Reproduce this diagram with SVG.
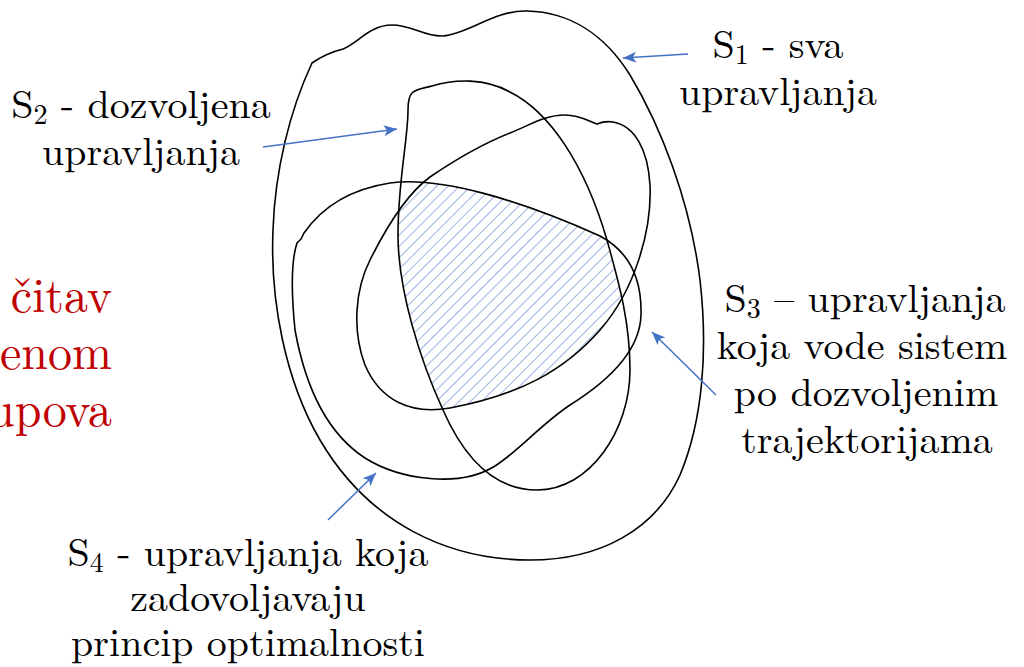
<svg xmlns="http://www.w3.org/2000/svg" width="1024" height="667" viewBox="0 0 1024 667">
<style>
.set{fill:none;stroke:#000;stroke-width:1.6;stroke-linejoin:round}
.arr{fill:none;stroke:#4472C4;stroke-width:1.5}
.lbl{font-size:40px;fill:#000;text-anchor:middle}
.red{font-size:48px;fill:#C00000;text-anchor:end}
.sub{font-size:28px}
</style>
<defs>
<marker id="ah" viewBox="0 0 12 10" refX="12" refY="5" markerWidth="14" markerHeight="11" markerUnits="userSpaceOnUse" orient="auto">
<path d="M0,0 L12,5 L0,10 L3,5 Z" fill="#4472C4"/>
</marker>
<pattern id="hatch" width="8" height="8" patternUnits="userSpaceOnUse" patternTransform="rotate(45)">
<line x1="0" y1="0" x2="0" y2="8" stroke="#7F9FD8" stroke-width="1.6"/>
</pattern>
<path id="p1" d="M312,63 C322,56 335,51 343,49 C358,43 370,25 392,25 C412,25 425,37 443,36 C468,34 495,10 527,11 C570,12 605,35 630,75 C660,125 690,200 700,280 C708,350 703,420 680,475 C655,530 600,560 530,560 C450,560 370,525 320,440 C285,380 270,300 273,230 C275,170 290,110 312,63 Z"/>
<path id="p2" d="M412,93 C418,88 425,88 432,86 C455,79 485,78 510,92 C550,112 585,165 607,240 C618,280 630,320 630,370 C630,430 590,490 537,490 C495,490 465,460 443,410 C420,360 398,290 398,235 C398,180 408,140 408,110 C408,100 409,96 412,93 Z"/>
<path id="p3" d="M430,177 C455,160 480,145 510,133 C530,125 545,115 565,115 C580,115 590,122 597,124 C602,122 607,121 613,122 C635,126 648,150 650,185 C652,230 635,290 600,330 C565,370 520,395 450,408 C410,415 380,400 365,365 C352,330 355,290 370,260 C385,230 405,195 430,177 Z"/>
<path id="p4" d="M304,233 C320,210 345,190 390,183 C440,176 520,200 600,236 C630,252 642,280 641,315 C640,350 610,380 570,405 C540,425 520,450 495,466 C460,488 400,480 365,458 C325,432 305,385 295,330 C291,290 292,258 297,243 L301,239 Z"/>
<clipPath id="c2"><use href="#p2"/></clipPath>
<clipPath id="c3"><use href="#p3"/></clipPath>
<clipPath id="c4"><use href="#p4"/></clipPath>
</defs>
<rect width="1024" height="667" fill="#fff"/>
<g id="hatched">
<g clip-path="url(#c2)"><g clip-path="url(#c3)"><rect x="350" y="150" width="320" height="300" fill="url(#hatch)" clip-path="url(#c4)"/></g></g>
</g>
<g id="S1"><use href="#p1" class="set"/></g>
<g id="S2"><use href="#p2" class="set"/></g>
<g id="S3"><use href="#p3" class="set"/></g>
<g id="S4"><use href="#p4" class="set"/></g>
<g id="connectors">
<line class="arr" x1="688" y1="54" x2="623" y2="58" marker-end="url(#ah)"/>
<line class="arr" x1="263" y1="147" x2="397" y2="129" marker-end="url(#ah)"/>
<line class="arr" x1="328" y1="520" x2="376" y2="473" marker-end="url(#ah)"/>
<line class="arr" x1="716" y1="395" x2="652" y2="332" marker-end="url(#ah)"/>
</g>
<g id="label-S1" font-family="'Latin Modern Roman','Liberation Serif',serif">
<text class="lbl" font-family="'Latin Modern Roman','Liberation Serif',serif" x="778" y="58">S<tspan class="sub" dy="6">1</tspan><tspan dy="-6"> - sva</tspan></text>
<text class="lbl" font-family="'Latin Modern Roman','Liberation Serif',serif" x="778" y="105">upravljanja</text>
</g>
<g id="label-S2" font-family="'Latin Modern Roman','Liberation Serif',serif">
<text class="lbl" font-family="'Latin Modern Roman','Liberation Serif',serif" x="141" y="118">S<tspan class="sub" dy="6">2</tspan><tspan dy="-6"> - dozvoljena</tspan></text>
<text class="lbl" font-family="'Latin Modern Roman','Liberation Serif',serif" x="141" y="165">upravljanja</text>
</g>
<g id="label-S3" font-family="'Latin Modern Roman','Liberation Serif',serif">
<text class="lbl" font-family="'Latin Modern Roman','Liberation Serif',serif" x="865" y="312">S<tspan class="sub" dy="6">3</tspan><tspan dy="-6"> – upravljanja</tspan></text>
<text class="lbl" font-family="'Latin Modern Roman','Liberation Serif',serif" x="862" y="359">koja vode sistem</text>
<text class="lbl" font-family="'Latin Modern Roman','Liberation Serif',serif" x="866" y="406">po dozvoljenim</text>
<text class="lbl" font-family="'Latin Modern Roman','Liberation Serif',serif" x="867" y="453">trajektorijama</text>
</g>
<g id="label-S4" font-family="'Latin Modern Roman','Liberation Serif',serif">
<text class="lbl" font-family="'Latin Modern Roman','Liberation Serif',serif" x="248" y="566">S<tspan class="sub" dy="6">4</tspan><tspan dy="-6"> - upravljanja koja</tspan></text>
<text class="lbl" font-family="'Latin Modern Roman','Liberation Serif',serif" x="248" y="611">zadovoljavaju</text>
<text class="lbl" font-family="'Latin Modern Roman','Liberation Serif',serif" x="248" y="656">princip optimalnosti</text>
</g>
<g id="red-text" font-family="'Latin Modern Roman','Liberation Serif',serif">
<text class="red" font-family="'Latin Modern Roman','Liberation Serif',serif" x="112" y="312">čitav</text>
<text class="red" font-family="'Latin Modern Roman','Liberation Serif',serif" x="112" y="369">enom</text>
<text class="red" font-family="'Latin Modern Roman','Liberation Serif',serif" x="112" y="426">upova</text>
</g>
</svg>
